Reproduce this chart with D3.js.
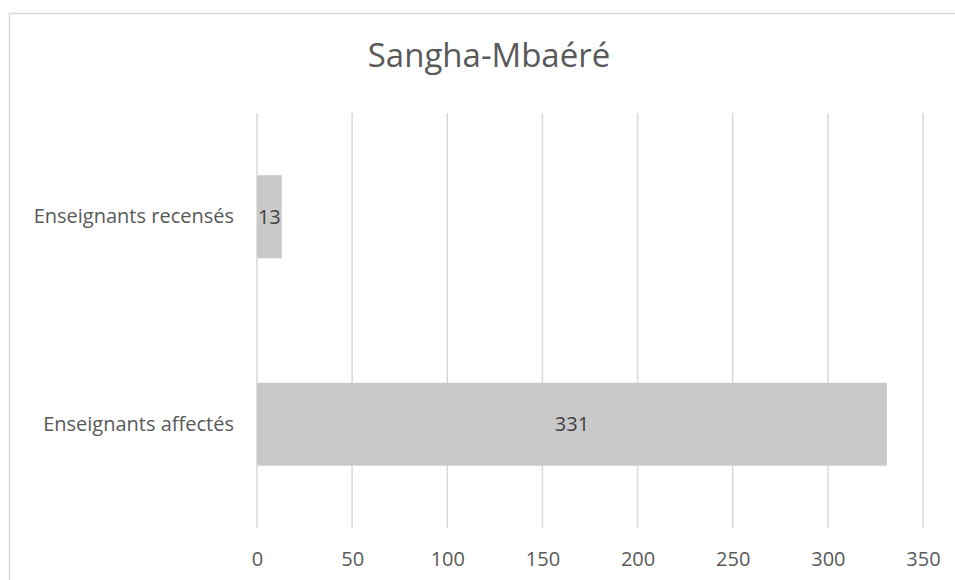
<!DOCTYPE html>
<html>
<head>
<meta charset="utf-8">
<script src="https://cdn.jsdelivr.net/npm/d3@7"></script>
<style>
  body { margin: 0; background: #fff; }
  text { font-family: "Open Sans", sans-serif; }
</style>
</head>
<body>
<svg width="955" height="580"></svg>
<script>
var title = "Sangha-Mbaéré";
var categories = ["Enseignants recensés", "Enseignants affectés"];
var values = [13, 331];
var ticks = [0, 50, 100, 150, 200, 250, 300, 350];

var svg = d3.select("svg"),
    margin = {top: 113, right: 32, bottom: 52, left: 257},
    width = 955 - margin.left - margin.right,
    height = 580 - margin.top - margin.bottom;

// chart frame
svg.append("rect")
    .attr("x", 9.5).attr("y", 13.5)
    .attr("width", 955).attr("height", 600)
    .attr("fill", "none")
    .attr("stroke", "#d9d9d9")
    .attr("stroke-width", 1.5);

svg.append("text")
    .attr("x", 489).attr("y", 67)
    .attr("text-anchor", "middle")
    .attr("fill", "#595959")
    .style("font-size", "33px")
    .text(title);

var g = svg.append("g").attr("transform", "translate(" + margin.left + "," + margin.top + ")");

var x = d3.scaleLinear().domain([0, 350]).range([0, 666]);
var y = d3.scaleBand().domain(categories).range([0, height]).paddingInner(0.6).paddingOuter(0.3);

// gridlines
g.selectAll("line.grid")
    .data(ticks)
    .enter().append("line")
    .attr("class", "grid")
    .attr("x1", function(d) { return x(d); })
    .attr("x2", function(d) { return x(d); })
    .attr("y1", 0)
    .attr("y2", height)
    .attr("stroke", "#d9d9d9")
    .attr("stroke-width", 1.5);

var xAxis = g.append("g")
    .attr("transform", "translate(0," + height + ")")
    .call(d3.axisBottom(x).tickValues(ticks).tickSize(0).tickPadding(24));
xAxis.select(".domain").remove();
xAxis.selectAll("text")
    .attr("fill", "#595959")
    .style("font-size", "20px")
    .style("font-family", "'Open Sans', sans-serif");

var yAxis = g.append("g")
    .call(d3.axisLeft(y).tickSize(0).tickPadding(23));
yAxis.select(".domain").remove();
yAxis.selectAll("text")
    .attr("fill", "#595959")
    .style("font-size", "20px")
    .style("font-family", "'Open Sans', sans-serif");

g.selectAll("rect.bar")
    .data(values)
    .enter().append("rect")
    .attr("class", "bar")
    .attr("x", x(0))
    .attr("y", function(d, i) { return y(categories[i]); })
    .attr("width", function(d) { return x(d) - x(0); })
    .attr("height", y.bandwidth())
    .attr("fill", "#c9c9c9");

g.selectAll("text.val")
    .data(values)
    .enter().append("text")
    .attr("class", "val")
    .attr("x", function(d) { return (x(0) + x(d)) / 2; })
    .attr("y", function(d, i) { return y(categories[i]) + y.bandwidth() / 2; })
    .attr("dy", "0.35em")
    .attr("text-anchor", "middle")
    .attr("fill", "#404040")
    .style("font-size", "20px")
    .text(function(d) { return d; });
</script>
</body>
</html>
